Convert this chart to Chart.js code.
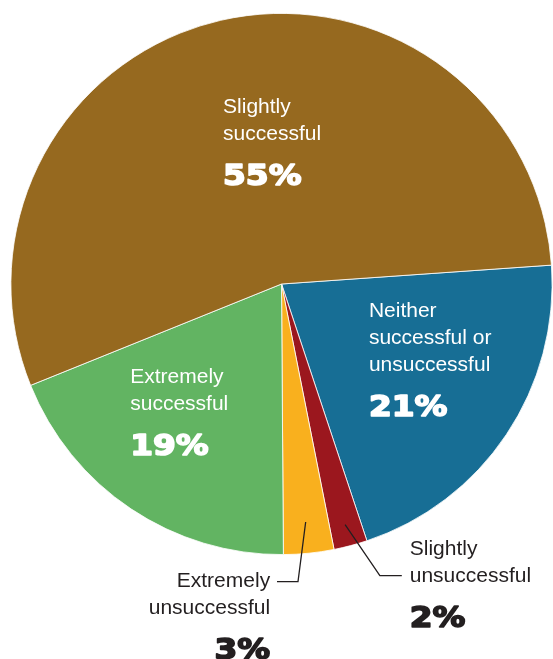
<!DOCTYPE html>
<html>
<head>
<meta charset="utf-8">
<script src="https://cdn.jsdelivr.net/npm/chart.js@4.4.1/dist/chart.umd.min.js"></script>
<style>
  html, body { margin: 0; padding: 0; background: #fff; }
  #pie { display: block; }
</style>
</head>
<body>
<canvas id="pie" width="553" height="659"></canvas>
<script>
// data, in drawing order (clockwise from the blue slice)
const categories = ['Neither successful or unsuccessful', 'Slightly unsuccessful', 'Extremely unsuccessful', 'Extremely successful', 'Slightly successful'];
const labelLines = [
  ['Neither', 'successful or', 'unsuccessful'],
  ['Slightly', 'unsuccessful'],
  ['Extremely', 'unsuccessful'],
  ['Extremely', 'successful'],
  ['Slightly', 'successful']
];
const shares = [21, 2, 3, 19, 55];
const sliceColors = ['#176E95', '#9B171E', '#F9B01E', '#62B462', '#96691F'];

// where each label sits, as fractions of the radius from the pie centre
const placement = [
  { dx: 0.323, dy: 0.122, align: 'left', color: '#fff' },
  { dx: 0.474, dy: 1.0, align: 'left', color: '#231F20',
    leader: { r: 0.92, elbow: [0.3635, 1.0775], end: [0.4446, 1.0775] } },
  { dx: -0.042, dy: 1.118, align: 'right', color: '#231F20',
    leader: { r: 0.884, elbow: [0.061, 1.0996], end: [-0.0166, 1.0996] } },
  { dx: -0.559, dy: 0.365, align: 'left', color: '#fff' },
  { dx: -0.216, dy: -0.631, align: 'left', color: '#fff' }
];

const labelPlugin = {
  id: 'sliceLabels',
  afterDatasetsDraw(chart) {
    const ctx = chart.ctx;
    const arcs = chart.getDatasetMeta(0).data;
    ctx.save();
    arcs.forEach((arc, i) => {
      const p = placement[i];
      const cx = arc.x, cy = arc.y, r = arc.outerRadius;
      const x = cx + p.dx * r;
      let y = cy + p.dy * r;

      if (p.leader) {
        const mid = (arc.startAngle + arc.endAngle) / 2;
        ctx.beginPath();
        ctx.moveTo(cx + Math.cos(mid) * r * p.leader.r, cy + Math.sin(mid) * r * p.leader.r);
        ctx.lineTo(cx + p.leader.elbow[0] * r, cy + p.leader.elbow[1] * r);
        ctx.lineTo(cx + p.leader.end[0] * r, cy + p.leader.end[1] * r);
        ctx.strokeStyle = '#231F20';
        ctx.lineWidth = 1.3;
        ctx.stroke();
      }

      ctx.fillStyle = p.color;
      ctx.textAlign = p.align;
      ctx.textBaseline = 'alphabetic';
      ctx.font = '21px "Liberation Sans", Arial, sans-serif';
      labelLines[i].forEach((line, k) => {
        ctx.fillText(line, x, y + k * 27);
      });

      // heavy, wide percentage figure
      const py = y + (labelLines[i].length - 1) * 27 + 45;
      const pct = shares[i] + '%';
      ctx.font = 'bold 28px "DejaVu Sans", sans-serif';
      const sx = 1.17;
      const w = ctx.measureText(pct).width * sx;
      const left = p.align === 'right' ? x - w : x;
      ctx.save();
      ctx.translate(left, py);
      ctx.scale(sx, 1);
      ctx.textAlign = 'left';
      ctx.strokeStyle = p.color;
      ctx.lineWidth = 1.6;
      ctx.lineJoin = 'round';
      ctx.strokeText(pct, 0, 0);
      ctx.fillText(pct, 0, 0);
      ctx.restore();
    });
    ctx.restore();
  }
};

new Chart(document.getElementById('pie'), {
  type: 'pie',
  data: {
    labels: categories,
    datasets: [{
      data: shares,
      backgroundColor: sliceColors,
      borderColor: '#ffffff',
      borderWidth: 0.8
    }]
  },
  options: {
    responsive: false,
    animation: false,
    rotation: 86,
    layout: { padding: { left: 10, right: 0, top: 13, bottom: 104 } },
    plugins: {
      legend: { display: false },
      tooltip: { enabled: false }
    }
  },
  plugins: [labelPlugin]
});
</script>
</body>
</html>
